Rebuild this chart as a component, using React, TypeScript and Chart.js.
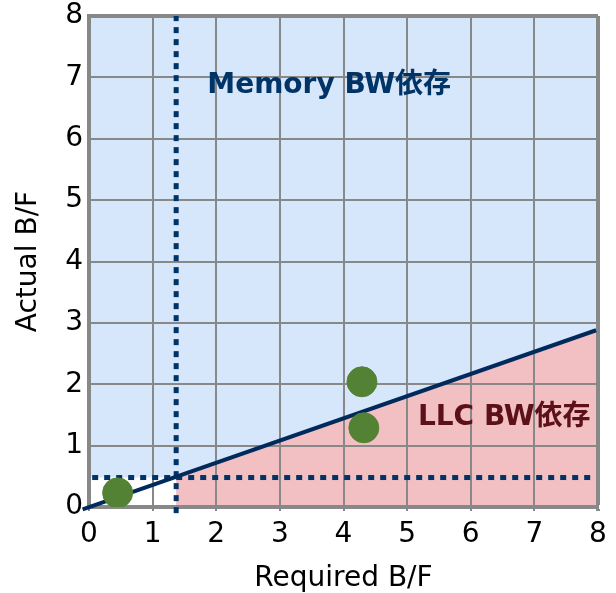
import React, { useEffect, useRef } from "react";
import { Chart, registerables } from "chart.js";

Chart.register(...registerables);

// Data
const pointsX = [0.45, 4.29, 4.32];
const pointsY = [0.23, 2.04, 1.29];
const boundaryX = [-0.1, 7.97];
const boundaryY = [-0.04, 2.88];
const thresholdX = 1.37; // vertical dotted line
const thresholdY = 0.48; // horizontal dotted line
const xTicks = [0, 1, 2, 3, 4, 5, 6, 7, 8];
const yTicks = [0, 1, 2, 3, 4, 5, 6, 7, 8];
const regionLabels = ["Memory BW依存", "LLC BW依存"];
const labelPosX = [1.86, 5.17];
const labelPosY = [6.87, 1.45];

const FONT = "'DejaVu Sans', 'Noto Sans CJK JP', sans-serif";
const NAVY = "#003366";
const LINE_NAVY = "#002a5c";
const BLUE = "#d6e6fb";
const PINK = "#f2c0c3";
const GREEN = "#548235";
const GRID = "#888888";

const lineAt = (x: number) =>
  boundaryY[0] + ((boundaryY[1] - boundaryY[0]) * (x - boundaryX[0])) / (boundaryX[1] - boundaryX[0]);

const labelPlugin = {
  id: "regionLabels",
  afterDatasetsDraw(chart: any) {
    const { ctx, scales } = chart;
    const colors = [NAVY, "#5c1018"];
    ctx.save();
    ctx.font = `bold 28px ${FONT}`;
    ctx.textBaseline = "middle";
    ctx.textAlign = "left";
    regionLabels.forEach((t, i) => {
      ctx.fillStyle = colors[i];
      ctx.fillText(t, scales.x.getPixelForValue(labelPosX[i]), scales.y.getPixelForValue(labelPosY[i]));
    });
    ctx.restore();
  },
};

export default function App() {
  const ref = useRef<HTMLCanvasElement>(null);
  useEffect(() => {
    if (!ref.current) return;
    const xMax = xTicks[xTicks.length - 1];
    const yMax = yTicks[yTicks.length - 1];
    const chart = new Chart(ref.current, {
      type: "scatter",
      data: {
        datasets: [
          {
            label: "points",
            data: pointsX.map((x, i) => ({ x, y: pointsY[i] })),
            backgroundColor: GREEN,
            borderColor: GREEN,
            pointRadius: 15,
            pointHoverRadius: 15,
            order: 0,
          },
          {
            label: "boundary",
            type: "line",
            data: boundaryX.map((x, i) => ({ x, y: boundaryY[i] })),
            borderColor: LINE_NAVY,
            borderWidth: 4,
            pointRadius: 0,
            fill: false,
            clip: false,
            order: 1,
          },
          {
            label: "vthreshold",
            type: "line",
            data: [
              { x: thresholdX, y: -0.1 },
              { x: thresholdX, y: yMax },
            ],
            borderColor: NAVY,
            borderWidth: 5,
            borderDash: [6, 6],
            pointRadius: 0,
            fill: false,
            clip: false,
            order: 2,
          },
          {
            label: "hthreshold",
            type: "line",
            data: [
              { x: 0.05, y: thresholdY },
              { x: 7.9, y: thresholdY },
            ],
            borderColor: NAVY,
            borderWidth: 5,
            borderDash: [6, 6],
            pointRadius: 0,
            fill: false,
            order: 3,
          },
          {
            label: "pink",
            type: "line",
            data: [
              { x: thresholdX, y: lineAt(thresholdX) },
              { x: xMax, y: lineAt(xMax) },
            ],
            borderWidth: 0,
            borderColor: "rgba(0,0,0,0)",
            backgroundColor: PINK,
            pointRadius: 0,
            fill: "origin",
            order: 4,
          },
          {
            label: "white",
            type: "line",
            data: [
              { x: 0, y: thresholdY },
              { x: thresholdX, y: thresholdY },
            ],
            borderWidth: 0,
            borderColor: "rgba(0,0,0,0)",
            backgroundColor: "#ffffff",
            pointRadius: 0,
            fill: "origin",
            order: 5,
          },
          {
            label: "blue",
            type: "line",
            data: [
              { x: 0, y: yMax },
              { x: xMax, y: yMax },
            ],
            borderWidth: 0,
            borderColor: "rgba(0,0,0,0)",
            backgroundColor: BLUE,
            pointRadius: 0,
            fill: "origin",
            order: 6,
          },
        ] as any,
      },
      options: {
        animation: false,
        responsive: false,
        maintainAspectRatio: false,
        events: [],
        layout: { padding: { left: 0, right: 18, top: 0, bottom: 0 } },
        plugins: {
          legend: { display: false },
          tooltip: { enabled: false },
          filler: { drawTime: "beforeDraw" } as any,
        },
        scales: {
          x: {
            type: "linear",
            min: 0,
            max: xMax,
            afterBuildTicks: (s: any) => {
              s.ticks = xTicks.map((v) => ({ value: v }));
            },
            afterFit: (s: any) => {
              s.height = 86;
              s.paddingRight = 8;
              s.paddingLeft = 0;
            },
            grid: {
              color: GRID,
              lineWidth: (c: any) => (c.tick && c.tick.value === xMax ? 4 : 2),
              drawTicks: true,
              tickLength: 4,
            },
            border: { color: GRID, width: 4 },
            ticks: { color: "#000", font: { family: FONT, size: 28 }, padding: 7, maxRotation: 0 },
            title: {
              display: true,
              text: "Required B/F",
              color: "#000",
              font: { family: FONT, size: 28 },
              padding: { top: 0, bottom: -3 },
            },
          },
          y: {
            type: "linear",
            min: 0,
            max: yMax,
            afterBuildTicks: (s: any) => {
              s.ticks = yTicks.map((v) => ({ value: v }));
            },
            afterFit: (s: any) => {
              s.width = 89;
              s.paddingTop = 16;
              s.paddingBottom = 0;
            },
            grid: {
              color: GRID,
              lineWidth: (c: any) => (c.tick && c.tick.value === yMax ? 4 : 2),
              drawTicks: false,
            },
            border: { color: GRID, width: 4 },
            ticks: { color: "#000", font: { family: FONT, size: 28 }, padding: 6 },
            title: {
              display: true,
              text: "Actual B/F",
              color: "#000",
              font: { family: FONT, size: 28 },
              padding: { top: 12, bottom: 0 },
            },
          },
        },
      },
      plugins: [labelPlugin],
    });
    return () => chart.destroy();
  }, []);
  return (
    <div style={{ position: "fixed", left: 0, top: 0, width: 616, height: 593, background: "#fff" }}>
      <canvas ref={ref} width={616} height={593} style={{ width: 616, height: 593, display: "block" }} />
    </div>
  );
}
